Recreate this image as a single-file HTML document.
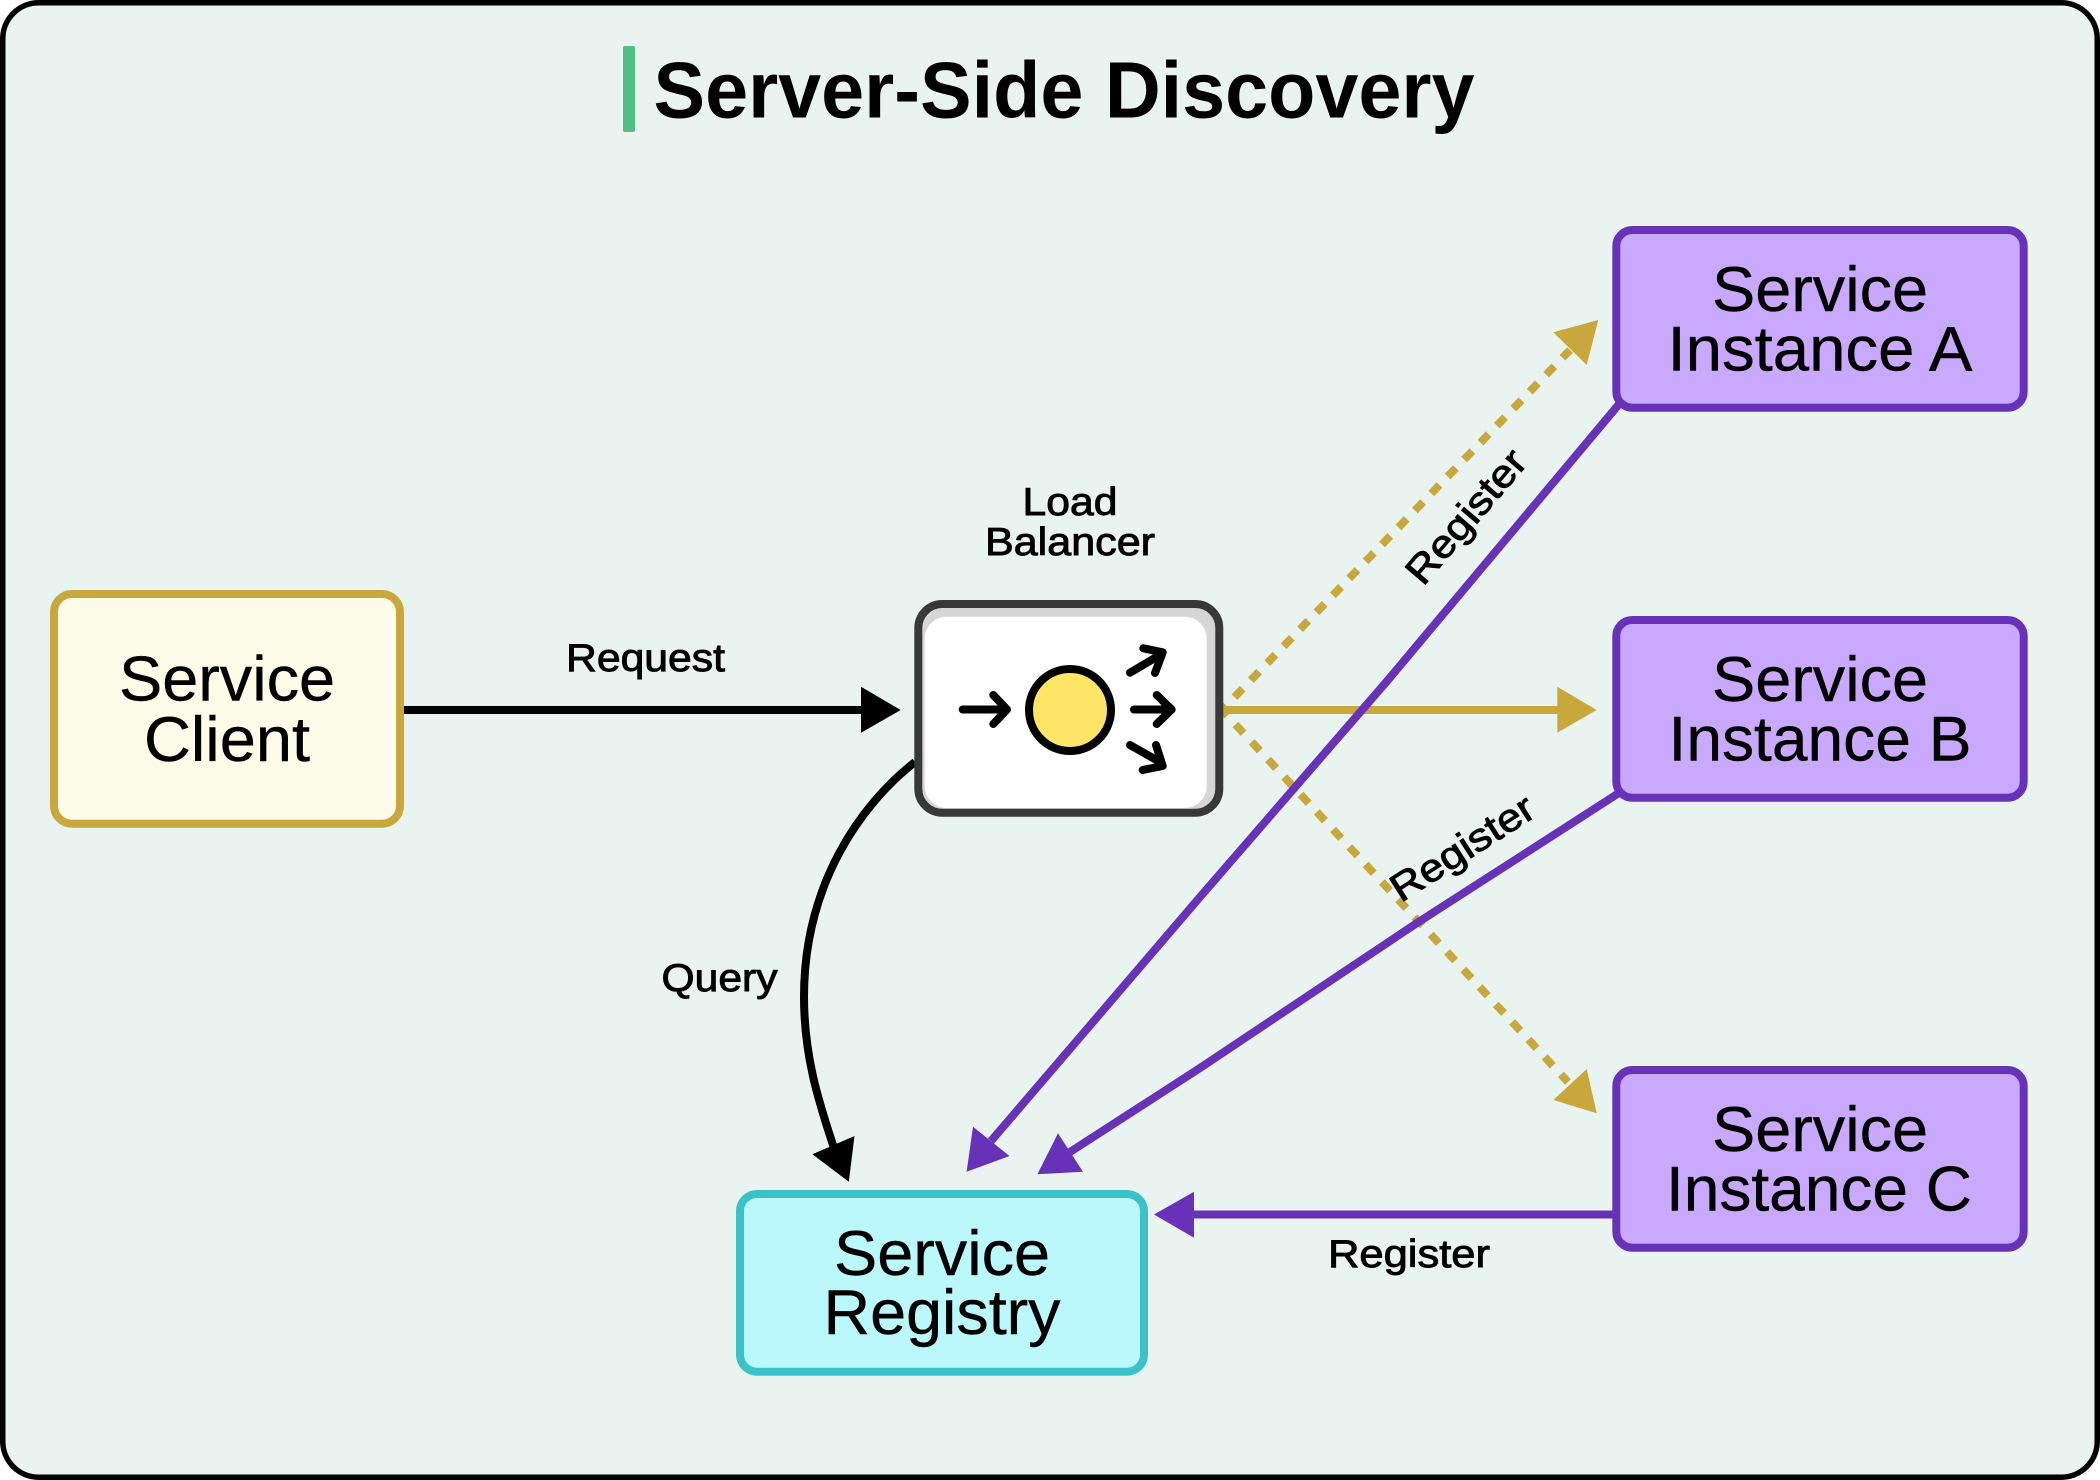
<!DOCTYPE html>
<html lang="en">
<head>
<meta charset="utf-8">
<title>Server-Side Discovery</title>
<style>
html,body{margin:0;padding:0;background:#fff;width:2100px;height:1480px;overflow:hidden}
svg{display:block}
text{font-family:"Liberation Sans",sans-serif;fill:#000;text-anchor:middle}
.b{font-size:63px;stroke:#000;stroke-width:.4px}
.l{font-size:39px;stroke:#000;stroke-width:.9px}
</style>
</head>
<body>
<svg xmlns="http://www.w3.org/2000/svg" width="2100" height="1480" viewBox="0 0 2100 1480">
  <rect x="2.75" y="2.75" width="2094.5" height="1474.5" rx="36" fill="#e9f4f0" stroke="#000" stroke-width="5.5"/>

  <rect x="623" y="46" width="12" height="86" rx="2" fill="#54be86"/>
  <text x="1064" y="117.5" font-size="80" font-weight="700" textLength="821" lengthAdjust="spacingAndGlyphs">Server-Side Discovery</text>

  <!-- connectors -->
  <g fill="none" stroke-width="8">
    <path d="M404,710 H865" stroke="#000"/>
    <path d="M915,762 C860,805 804,885 804,997 C804,1055 818,1100 834,1148" stroke="#000"/>
    <path d="M1222,710 L1570,350" stroke="#c8a83c" stroke-dasharray="11.8 11.8" stroke-dashoffset="5.7"/>
    <path d="M1222,710 L1568,1082" stroke="#c8a83c" stroke-dasharray="11.95 11.95" stroke-dashoffset="4.2"/>
    <path d="M1222,710 H1560" stroke="#c8a83c"/>
    <path d="M1620,403 L1388,680 L1200,897 L1069,1050 L991,1141" stroke="#6732b8" stroke-linejoin="round"/>
    <path d="M1622,791 L1417,923 L1200,1068 L1070,1152" stroke="#6732b8" stroke-linejoin="round"/>
    <path d="M1615,1214.5 H1190" stroke="#6732b8"/>
  </g>
  <polygon points="861,686.7 900.7,710 861,732.7" fill="#000"/>
  <polygon points="812.4,1154.3 854.5,1136 848.8,1181.7" fill="#000"/>
  <polygon points="1557.3,686.7 1596.7,710 1557.3,732.7" fill="#c8a83c"/>
  <polygon points="1553.3,332.3 1598.3,320 1586.7,365" fill="#c8a83c"/>
  <polygon points="1586.7,1069 1596.7,1113.3 1553.3,1100" fill="#c8a83c"/>
  <polygon points="973,1126.7 1009.5,1156 966.6,1171.7" fill="#6732b8"/>
  <polygon points="1058,1133.3 1083,1171.7 1037.4,1174.3" fill="#6732b8"/>
  <polygon points="1154,1214.5 1194,1191.7 1194,1237.7" fill="#6732b8"/>

  <!-- Service Client -->
  <rect x="54" y="594" width="346" height="229.7" rx="18" fill="#fdfce8" stroke="#c8a83c" stroke-width="8"/>
  <text class="b" x="227" y="700.5" textLength="216" lengthAdjust="spacingAndGlyphs">Service</text>
  <text class="b" x="227" y="761" textLength="166" lengthAdjust="spacingAndGlyphs">Client</text>

  <!-- Load Balancer -->
  <text class="l" x="1070" y="515" textLength="95" lengthAdjust="spacingAndGlyphs">Load</text>
  <text class="l" x="1070" y="555" textLength="170" lengthAdjust="spacingAndGlyphs">Balancer</text>
  <rect x="918.3" y="604" width="301" height="208.7" rx="24" fill="#d6d6d6" stroke="#383838" stroke-width="8"/>
  <rect x="924.7" y="616.7" width="282" height="191.3" rx="22" fill="#fff"/>
  <circle cx="1070" cy="710" r="41" fill="#ffe566" stroke="#000" stroke-width="8"/>
  <g fill="none" stroke="#000" stroke-width="8" stroke-linecap="round" stroke-linejoin="round">
    <path d="M962.7,709.5 H1005 M993.3,695 L1007,709.5 L993.3,724"/>
    <path d="M1134,709.5 H1170 M1156.7,695 L1171.7,709.5 L1156.7,724"/>
    <path d="M1130,672.7 L1160,655 M1143.3,648.3 L1162.7,652.3 L1155,673"/>
    <path d="M1130,745 L1160,762 M1156,745 L1162.7,766 L1142.7,770"/>
  </g>

  <!-- Service Registry -->
  <rect x="740" y="1194" width="404" height="177.7" rx="17" fill="#baf8fb" stroke="#3bc1c8" stroke-width="8"/>
  <text class="b" x="942" y="1275" textLength="216" lengthAdjust="spacingAndGlyphs">Service</text>
  <text class="b" x="942" y="1334" textLength="237" lengthAdjust="spacingAndGlyphs">Registry</text>

  <!-- Instances -->
  <rect x="1616.3" y="230" width="407.4" height="177.7" rx="16" fill="#c9a9fe" stroke="#6732b8" stroke-width="8"/>
  <text class="b" x="1820" y="311" textLength="216" lengthAdjust="spacingAndGlyphs">Service</text>
  <text class="b" x="1820" y="370.7" textLength="305" lengthAdjust="spacingAndGlyphs">Instance A</text>

  <rect x="1616.3" y="620" width="407.4" height="177.7" rx="16" fill="#c9a9fe" stroke="#6732b8" stroke-width="8"/>
  <text class="b" x="1820" y="701" textLength="216" lengthAdjust="spacingAndGlyphs">Service</text>
  <text class="b" x="1820" y="760.7" textLength="303" lengthAdjust="spacingAndGlyphs">Instance B</text>

  <rect x="1616.3" y="1070" width="407.4" height="177.7" rx="16" fill="#c9a9fe" stroke="#6732b8" stroke-width="8"/>
  <text class="b" x="1820" y="1151" textLength="216" lengthAdjust="spacingAndGlyphs">Service</text>
  <text class="b" x="1819" y="1210.7" textLength="306" lengthAdjust="spacingAndGlyphs">Instance C</text>

  <!-- edge labels -->
  <text class="l" x="645.5" y="671" textLength="159" lengthAdjust="spacingAndGlyphs">Request</text>
  <text class="l" x="719.5" y="991" textLength="116" lengthAdjust="spacingAndGlyphs">Query</text>
  <text class="l" x="1409" y="1267" textLength="162" lengthAdjust="spacingAndGlyphs">Register</text>
  <text class="l" transform="translate(1476,525) rotate(-49.5)" x="0" y="0" textLength="163" lengthAdjust="spacingAndGlyphs">Register</text>
  <text class="l" transform="translate(1469.5,859) rotate(-32.7)" x="0" y="0" textLength="163" lengthAdjust="spacingAndGlyphs">Register</text>
</svg>
</body>
</html>
